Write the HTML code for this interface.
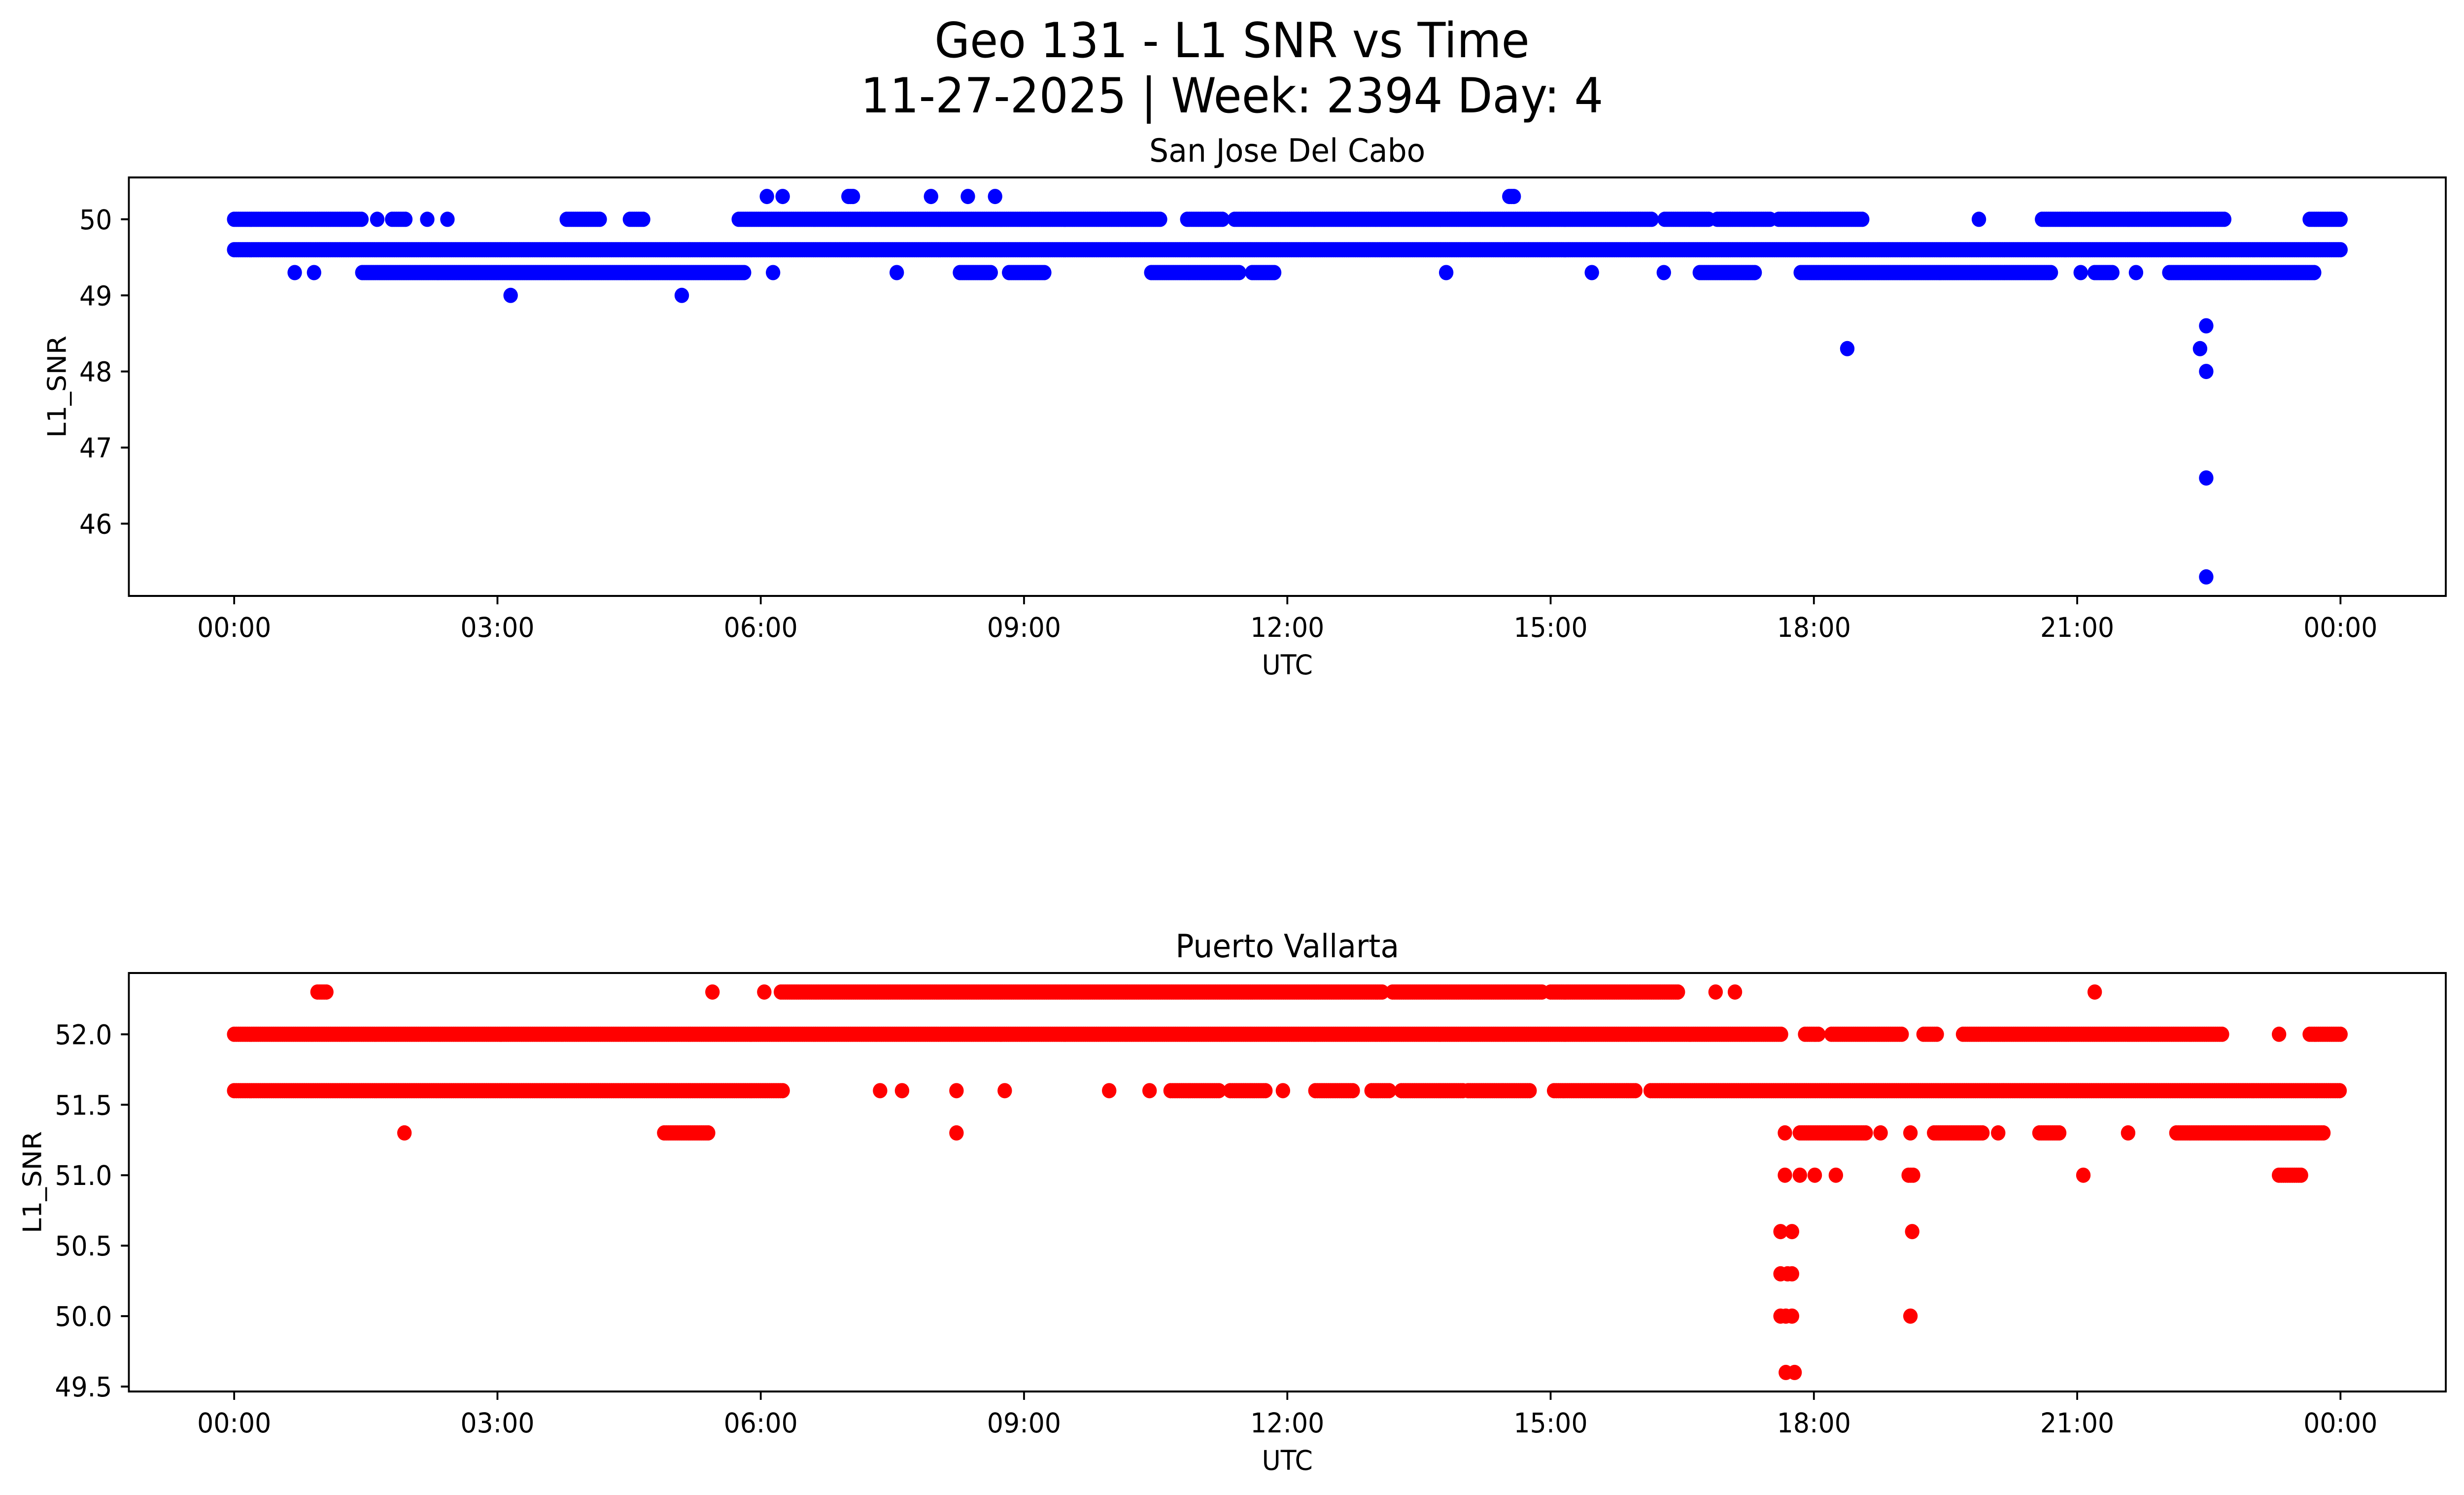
<!DOCTYPE html>
<html><head><meta charset="utf-8"><style>
html,body{margin:0;padding:0;background:#fff;overflow:hidden;width:100%;height:100%;}
svg{display:block;font-family:"DejaVu Sans","Liberation Sans",sans-serif;width:100vw;height:100vh;}
</style></head><body>
<svg id="fig" viewBox="0 0 5278 3033" preserveAspectRatio="none" xmlns="http://www.w3.org/2000/svg">
<rect width="5278" height="3033" fill="#fff"/>
<text x="2639" y="116" font-size="98" text-anchor="middle">Geo 131 - L1 SNR vs Time</text>
<text x="2639" y="228" font-size="98" text-anchor="middle">11-27-2025 | Week: 2394 Day: 4</text>
<g id="top"></g>
<g id="bot"></g>
</svg>
<script>
// ---- data (hours UTC) ----
const xTickLabels = ["00:00","03:00","06:00","09:00","12:00","15:00","18:00","21:00","00:00"];
const xTickHours = [0,3,6,9,12,15,18,21,24];

const topYTicks = [46,47,48,49,50];
const topYTickLabels = ["46","47","48","49","50"];
const topRowValues = [50.3, 50.0, 49.6, 49.3];
const topRowRuns = [
  [[6.07,6.07],[6.25,6.25],[7.0,7.05],[7.94,7.94],[8.36,8.36],[8.67,8.67],[14.53,14.58]],
  [[0,1.45],[1.63,1.63],[1.8,1.95],[2.2,2.2],[2.43,2.43],[3.79,4.17],[4.51,4.67],[5.75,10.55],[10.86,11.26],[11.4,16.15],[16.3,16.8],[16.9,17.5],[17.6,18.57],[19.88,19.88],[20.6,22.68],[23.65,24]],
  [[0,24]],
  [[0.69,0.69],[0.91,0.91],[1.46,5.83],[6.14,6.14],[7.55,7.55],[8.27,8.63],[8.83,9.24],[10.45,11.45],[11.6,11.85],[13.81,13.81],[15.47,15.47],[16.29,16.29],[16.7,17.33],[17.85,20.7],[21.04,21.04],[21.2,21.4],[21.67,21.67],[22.05,23.7]]
];
const topSingleHours = [3.15, 5.1, 18.38, 22.4, 22.47, 22.47, 22.47, 22.47];
const topSingleValues = [49.0, 49.0, 48.3, 48.3, 48.6, 48.0, 46.6, 45.3];

const botYTicks = [49.5,50.0,50.5,51.0,51.5,52.0];
const botYTickLabels = ["49.5","50.0","50.5","51.0","51.5","52.0"];
const botRowValues = [52.3, 52.0, 51.6, 51.3, 51.0];
const botRowRuns = [
  [[0.95,1.06],[5.45,5.45],[6.04,6.04],[6.23,13.1],[13.2,14.9],[15.0,16.47],[16.88,16.88],[17.1,17.1],[21.2,21.2]],
  [[0,17.63],[17.9,18.05],[18.2,19.0],[19.25,19.4],[19.7,22.65],[23.3,23.3],[23.65,24]],
  [[0,6.26],[7.36,7.36],[7.61,7.61],[8.23,8.23],[8.78,8.78],[9.97,9.97],[10.43,10.43],[10.67,11.22],[11.35,11.77],[11.95,11.95],[12.32,12.75],[12.96,13.17],[13.3,14.0],[14.06,14.78],[15.04,15.97],[16.14,24]],
  [[1.94,1.94],[4.9,5.4],[8.23,8.23],[17.67,17.67],[17.84,18.6],[18.76,18.76],[19.1,19.1],[19.37,19.92],[20.1,20.1],[20.57,20.81],[21.58,21.58],[22.13,23.82]],
  [[17.67,17.67],[17.84,17.84],[18.01,18.01],[18.25,18.25],[19.08,19.13],[21.07,21.07],[23.3,23.55]]
];
const botSingleHours = [17.62,17.75,19.12,17.62,17.7,17.75,17.62,17.68,17.75,19.1,17.68,17.78];
const botSingleValues = [50.6,50.6,50.6,50.3,50.3,50.3,50.0,50.0,50.0,50.0,49.6,49.6];

// ---- drawing ----
const NS = "http://www.w3.org/2000/svg";
const X0 = 276, X1 = 5239, HMIN = -1.2, HMAX = 25.2;
function xScale(h){ return X0 + (h - HMIN) / (HMAX - HMIN) * (X1 - X0); }
function mk(tag, attrs, parent){ const e = document.createElementNS(NS, tag); for (const k in attrs) e.setAttribute(k, attrs[k]); parent.appendChild(e); return e; }

function panel(g, cfg){
  const yScale = v => cfg.yb - (v - cfg.vmin) / (cfg.vmax - cfg.vmin) * (cfg.yb - cfg.yt);
  const pts = mk("g", {}, g);
  
  
  cfg.rowValues.forEach((v, i) => {
    cfg.rowRuns[i].forEach(r => {
      for (let h = r[0]; h <= r[1] + 1e-9; h += 0.025) {
        const c = mk("circle", {cx: xScale(h).toFixed(1), cy: yScale(v).toFixed(1), r: 15.5, fill: cfg.color}, pts);
        
        
      }
    });
  });
  cfg.singleHours.forEach((h, i) => {
    const c = mk("circle", {cx: xScale(h).toFixed(1), cy: yScale(cfg.singleValues[i]).toFixed(1), r: 15.5, fill: cfg.color}, pts);
    
    
  });
  const frame = mk("rect", {x: X0, y: cfg.yt, width: X1 - X0, height: cfg.yb - cfg.yt, fill: "none", stroke: "#000", "stroke-width": 4}, g);
  
  
  xTickHours.forEach((h, i) => {
    const x = xScale(h);
    const t = mk("line", {x1: x, x2: x, y1: cfg.yb, y2: cfg.yb + 17, stroke: "#000", "stroke-width": 4}, g);
    
    
    const l = mk("text", {x: x, y: cfg.yb + 83, "font-size": 55, "text-anchor": "middle"}, g);
    l.textContent = xTickLabels[i];
    
    
  });
  cfg.yTicks.forEach((v, i) => {
    const y = yScale(v);
    const t = mk("line", {x1: X0 - 17, x2: X0, y1: y, y2: y, stroke: "#000", "stroke-width": 4}, g);
    
    
    const l = mk("text", {x: 240, y: y + 20, "font-size": 55, "text-anchor": "end"}, g);
    l.textContent = cfg.yTickLabels[i];
    
    
  });
  const xl = mk("text", {x: (X0 + X1) / 2, y: cfg.yb + 159, "font-size": 55, "text-anchor": "middle"}, g);
  xl.textContent = "UTC";
  
  
  const ym = (cfg.yt + cfg.yb) / 2;
  const yl = mk("text", {x: cfg.ylx, y: ym, "font-size": 55, "text-anchor": "middle", transform: `rotate(-90 ${cfg.ylx} ${ym})`}, g);
  yl.textContent = "L1_SNR";
  
  
  const tt = mk("text", {x: (X0 + X1) / 2, y: cfg.yt - 32, "font-size": 65, "text-anchor": "middle"}, g);
  tt.textContent = cfg.title;
  
  
}

panel(document.getElementById("top"), {key: "san-jose", yt: 360, yb: 1209, vmin: 45.05, vmax: 50.55, color: "#0000ff",
  rowValues: topRowValues, rowRuns: topRowRuns, singleHours: topSingleHours, singleValues: topSingleValues,
  yTicks: topYTicks, yTickLabels: topYTickLabels, ylx: 141, title: "San Jose Del Cabo"});
panel(document.getElementById("bot"), {key: "puerto-vallarta", yt: 1974, yb: 2823, vmin: 49.465, vmax: 52.435, color: "#ff0000",
  rowValues: botRowValues, rowRuns: botRowRuns, singleHours: botSingleHours, singleValues: botSingleValues,
  yTicks: botYTicks, yTickLabels: botYTickLabels, ylx: 88, title: "Puerto Vallarta"});
</script>
</body></html>
